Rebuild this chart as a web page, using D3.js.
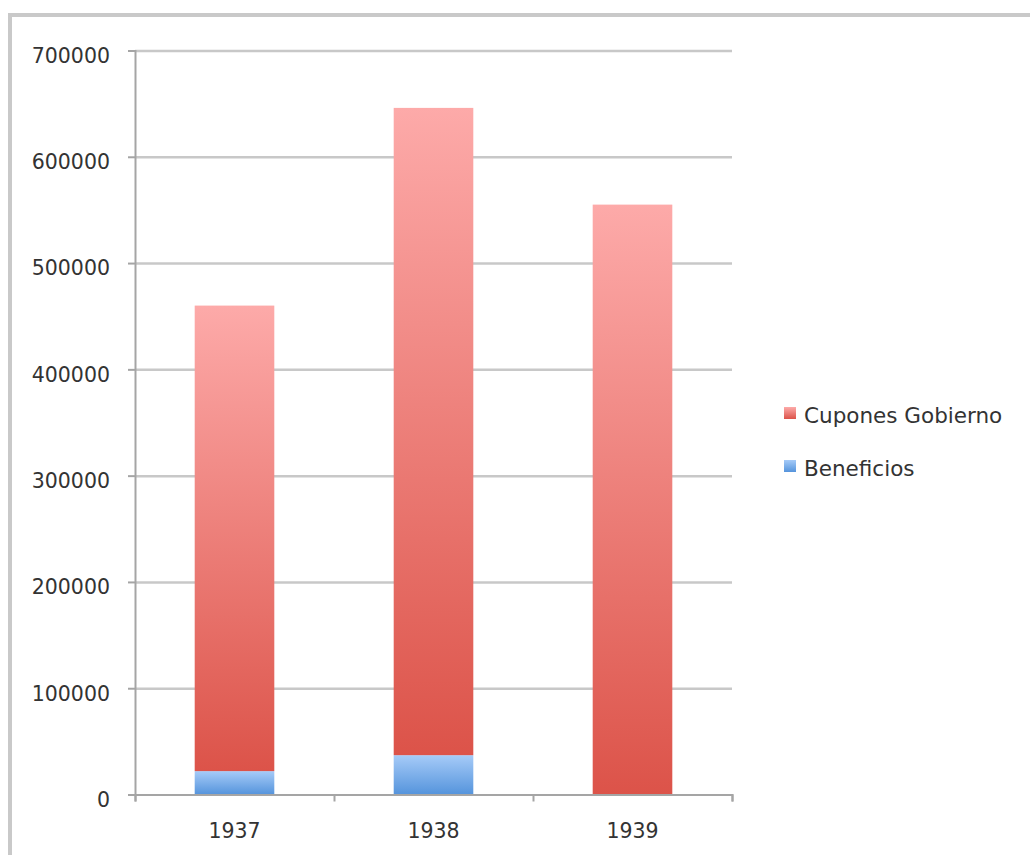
<!DOCTYPE html>
<html>
<head>
<meta charset="utf-8">
<script src="https://cdn.jsdelivr.net/npm/d3@7"></script>
<style>
  html, body { margin: 0; padding: 0; background: #fff; }
  svg { display: block; }
  .tick text { font-family: "DejaVu Sans", sans-serif; fill: #333; }
</style>
</head>
<body>
<svg id="chart" width="1030" height="855"></svg>
<script>
// Years shown on the category axis
const years = ["1937", "1938", "1939"];
// Stacked series, bottom to top
const beneficios = [22000, 37000, 0];
const cupones = [438000, 609000, 555000];
const seriesNames = ["Beneficios", "Cupones Gobierno"];
// Value axis ticks
const yTicks = [0, 100000, 200000, 300000, 400000, 500000, 600000, 700000];

const rows = years.map((yr, i) => ({
  year: yr,
  "Beneficios": beneficios[i],
  "Cupones Gobierno": cupones[i]
}));

const svg = d3.select("#chart");
const plotLeft = 135, plotRight = 732, plotTop = 50.5, plotBottom = 794.5;

// Outer frame
svg.append("rect")
  .attr("x", 10).attr("y", 15)
  .attr("width", 1100).attr("height", 1000)
  .attr("fill", "none")
  .attr("stroke", "#c9c9c9")
  .attr("stroke-width", 4);

const defs = svg.append("defs");
const gradStops = {
  "Cupones Gobierno": ["#fdaaa9", "#dc5349"],
  "Beneficios": ["#a6cbf8", "#5594dc"]
};
Object.entries(gradStops).forEach(([k, c], i) => {
  const g = defs.append("linearGradient")
    .attr("id", "grad" + i)
    .attr("x1", 0).attr("y1", 0).attr("x2", 0).attr("y2", 1);
  g.append("stop").attr("offset", "0%").attr("stop-color", c[0]);
  g.append("stop").attr("offset", "100%").attr("stop-color", c[1]);
});
const gradId = k => "url(#grad" + Object.keys(gradStops).indexOf(k) + ")";

const x = d3.scaleBand().domain(years).range([plotLeft, plotRight])
  .paddingInner(0.6).paddingOuter(0.3);
const y = d3.scaleLinear().domain([0, 700000]).range([plotBottom, plotTop]);

// Horizontal gridlines
svg.append("g")
  .attr("transform", `translate(${plotLeft},0)`)
  .call(d3.axisLeft(y).tickValues(yTicks.slice(1)).tickSize(-(plotRight - plotLeft)).tickFormat(""))
  .call(g => g.select(".domain").remove())
  .call(g => g.selectAll("line").attr("stroke", "#c8c8c8").attr("stroke-width", 2.5));

// Stacked bars
const stacked = d3.stack().keys(seriesNames)(rows);
svg.append("g").selectAll("g")
  .data(stacked)
  .join("g")
  .attr("fill", d => gradId(d.key))
  .selectAll("rect")
  .data(d => d.filter(p => p[1] > p[0]))
  .join("rect")
  .attr("x", d => x(d.data.year))
  .attr("width", x.bandwidth())
  .attr("y", d => y(d[1]))
  .attr("height", d => y(d[0]) - y(d[1]));

// Value axis
svg.append("g")
  .attr("transform", `translate(${plotLeft},0)`)
  .call(d3.axisLeft(y).tickValues(yTicks).tickSize(7).tickPadding(18).tickFormat(d => String(d)))
  .call(g => g.select(".domain").attr("stroke", "#a5a5a5").attr("stroke-width", 2))
  .call(g => g.selectAll(".tick line").attr("stroke", "#a5a5a5").attr("stroke-width", 2))
  .call(g => g.selectAll("text").attr("font-size", 20.5).attr("dy", "0.58em"));

// Category axis: boundary ticks
const xEdge = d3.scaleLinear().domain([0, years.length]).range([plotLeft, plotRight]);
svg.append("g")
  .attr("transform", `translate(0,${plotBottom})`)
  .call(d3.axisBottom(xEdge).ticks(years.length).tickSize(7).tickFormat(""))
  .call(g => g.select(".domain").attr("stroke", "#a5a5a5").attr("stroke-width", 2))
  .call(g => g.selectAll(".tick line").attr("stroke", "#a5a5a5").attr("stroke-width", 2));

// Category labels
svg.append("g")
  .attr("transform", `translate(0,${plotBottom})`)
  .call(d3.axisBottom(x).tickSize(0).tickPadding(29))
  .call(g => g.select(".domain").remove())
  .call(g => g.selectAll("text").attr("font-size", 20.5));

// Legend
const legendItems = ["Cupones Gobierno", "Beneficios"];
const legend = svg.append("g");
legendItems.forEach((k, i) => {
  const ly = 413 + i * 53;
  legend.append("rect")
    .attr("x", 784).attr("y", ly - 6)
    .attr("width", 12).attr("height", 12)
    .attr("fill", gradId(k));
  legend.append("text")
    .attr("x", 804).attr("y", ly + 10)
    .attr("font-family", "DejaVu Sans, sans-serif")
    .attr("font-size", 21.5)
    .attr("fill", "#333")
    .text(k);
});
</script>
</body>
</html>
